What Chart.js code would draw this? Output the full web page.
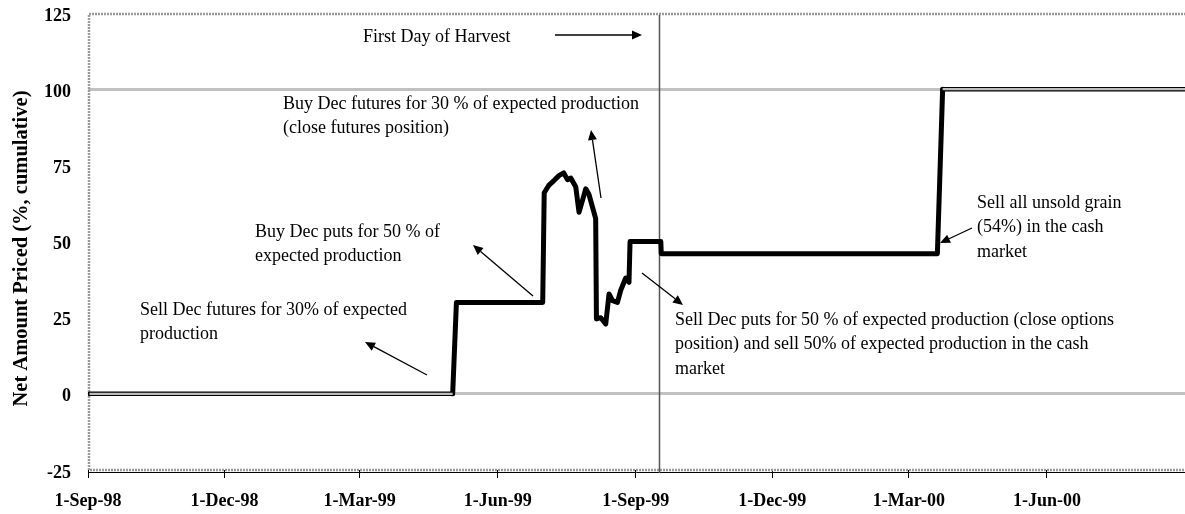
<!DOCTYPE html>
<html>
<head>
<meta charset="utf-8">
<script src="https://cdn.jsdelivr.net/npm/chart.js@4/dist/chart.umd.min.js"></script>
<style>
  html, body { margin: 0; padding: 0; background: #fff; }
  #wrap { width: 1185px; height: 514px; position: relative; }
</style>
</head>
<body>
<div id="wrap"><canvas id="c" width="1185" height="514"></canvas></div>
<script>
// Days since 1-Sep-98
const dayValues = [1, 243, 245.5, 303, 304, 307, 310.5, 314, 317, 319.5, 321.7, 325, 327.2, 329.5, 331.7, 333.8, 338.3, 338.8, 341.7, 345, 347.2, 349.5, 352.8, 355, 358.3, 360.5, 361.2, 381.7, 382, 566, 569.5, 731];
const netPriced = [0, 0, 30, 30, 66, 68.4, 70, 71.7, 72.5, 70.3, 70.8, 68, 59.6, 63.5, 67.3, 65.5, 57.5, 24.6, 25, 22.9, 32.8, 30.6, 30, 34, 38, 36.6, 50, 50, 46, 46, 100, 100];

const tickDays = [0, 91, 181, 273, 365, 456, 547, 639];
const tickLabels = ['1-Sep-98', '1-Dec-98', '1-Mar-99', '1-Jun-99', '1-Sep-99', '1-Dec-99', '1-Mar-00', '1-Jun-00'];
const yTicks = [-25, 0, 25, 50, 75, 100, 125];
const harvestDay = 380.7;
const xMax = 731;
const yTitle = 'Net Amount Priced (%, cumulative)';

const SERIF = "'Liberation Serif', 'Times New Roman', serif";

const annotations = [
  { lines: ['First Day of Harvest'], x: 363, y: 37, arrow: [555, 35, 642, 35] },
  { lines: ['Buy Dec futures for 30 % of expected production', '(close futures position)'], x: 283, y: 104, arrow: [601, 198, 591, 130] },
  { lines: ['Buy Dec puts for 50 % of', 'expected production'], x: 255, y: 232, arrow: [533, 296, 473, 245] },
  { lines: ['Sell Dec futures for 30% of expected', 'production'], x: 140, y: 310, arrow: [427, 375, 365, 342] },
  { lines: ['Sell Dec puts for 50 % of expected production (close options', 'position) and sell 50% of expected production in the cash', 'market'], x: 675, y: 320, arrow: [642, 273, 683, 305] },
  { lines: ['Sell all unsold grain', '(54%) in the cash', 'market'], x: 977, y: 203, arrow: [972, 228, 940, 243] }
];

function isFlatRef(c) {
  return c.p0.parsed.y === c.p1.parsed.y && (c.p0.parsed.y === 0 || c.p0.parsed.y === 100);
}

function drawArrow(ctx, x1, y1, x2, y2) {
  const ang = Math.atan2(y2 - y1, x2 - x1);
  const hl = 10, hw = 4.5;
  const bx = x2 - hl * Math.cos(ang), by = y2 - hl * Math.sin(ang);
  ctx.beginPath();
  ctx.moveTo(x1, y1);
  ctx.lineTo(bx, by);
  ctx.lineWidth = 1.3;
  ctx.strokeStyle = '#000';
  ctx.stroke();
  ctx.beginPath();
  ctx.moveTo(x2, y2);
  ctx.lineTo(bx + hw * Math.sin(ang), by - hw * Math.cos(ang));
  ctx.lineTo(bx - hw * Math.sin(ang), by + hw * Math.cos(ang));
  ctx.closePath();
  ctx.fillStyle = '#000';
  ctx.fill();
}

const framePlugin = {
  id: 'frame',
  beforeDatasetsDraw(chart) {
    const { ctx, chartArea: a, scales } = chart;
    ctx.save();
    // dotted frame
    ctx.strokeStyle = '#9a9a9a';
    ctx.lineWidth = 2.5;
    ctx.setLineDash([2, 1]);
    ctx.strokeRect(a.left + 1, a.top + 1, a.right - a.left + 4, a.bottom - a.top - 1);
    ctx.setLineDash([]);
    // x axis line
    ctx.strokeStyle = '#000';
    ctx.lineWidth = 1;
    ctx.beginPath();
    ctx.moveTo(a.left, a.bottom + 2.5);
    ctx.lineTo(a.right, a.bottom + 2.5);
    ctx.stroke();
    // harvest line
    const hx = Math.round(scales.x.getPixelForValue(harvestDay)) + 0.5;
    ctx.strokeStyle = '#555';
    ctx.lineWidth = 1.5;
    ctx.beginPath();
    ctx.moveTo(hx, a.top + 2);
    ctx.lineTo(hx, a.bottom + 3);
    ctx.stroke();
    // y axis title
    ctx.translate(22, 248.5);
    ctx.rotate(-Math.PI / 2);
    ctx.font = 'bold 20.5px ' + SERIF;
    ctx.fillStyle = '#000';
    ctx.textAlign = 'center';
    ctx.textBaseline = 'middle';
    ctx.fillText(yTitle, 0, 0);
    ctx.restore();
  },
  afterDatasetsDraw(chart) {
    const { ctx } = chart;
    ctx.save();
    ctx.font = '18px ' + SERIF;
    ctx.fillStyle = '#000';
    ctx.textBaseline = 'middle';
    ctx.textAlign = 'left';
    annotations.forEach(an => {
      an.lines.forEach((t, i) => ctx.fillText(t, an.x, an.y + i * 24.5));
      drawArrow(ctx, ...an.arrow);
    });
    ctx.restore();
  }
};

const points = dayValues.map((d, i) => ({ x: d, y: netPriced[i] }));

new Chart(document.getElementById('c'), {
  type: 'scatter',
  data: {
    datasets: [{
      data: points,
      order: 1,
      showLine: true,
      borderColor: '#000',
      borderWidth: 5,
      borderJoinStyle: 'round',
      borderCapStyle: 'round',
      pointRadius: 0,
      tension: 0,
      segment: { borderWidth: c => isFlatRef(c) ? 4.5 : 5 }
    }, {
      data: points,
      order: 0,
      showLine: true,
      borderColor: 'rgba(0,0,0,0)',
      borderWidth: 2.2,
      borderCapStyle: 'butt',
      pointRadius: 0,
      tension: 0,
      segment: { borderColor: c => isFlatRef(c) ? '#bdbdbd' : 'rgba(0,0,0,0)' }
    }]
  },
  plugins: [framePlugin],
  options: {
    responsive: false,
    animation: false,
    layout: { padding: { top: 13, right: 0, left: 0, bottom: 0 } },
    plugins: { legend: { display: false }, tooltip: { enabled: false } },
    scales: {
      x: {
        type: 'linear',
        min: 0,
        max: xMax,
        afterBuildTicks: s => { s.ticks = tickDays.map(v => ({ value: v })); },
        afterFit: s => { s.height = 44; },
        border: { display: false },
        grid: { drawOnChartArea: false, drawTicks: true, tickLength: 8, color: '#000', lineWidth: 1 },
        ticks: {
          autoSkip: false,
          maxRotation: 0,
          padding: 13,
          color: '#000',
          font: { family: SERIF, size: 18, weight: 'bold' },
          callback: v => { const i = tickDays.indexOf(v); return i >= 0 ? tickLabels[i] : ''; }
        }
      },
      y: {
        min: -25,
        max: 125,
        afterBuildTicks: s => { s.ticks = yTicks.map(v => ({ value: v })); },
        afterFit: s => { s.width = 88; },
        border: { display: false },
        grid: {
          drawTicks: true,
          tickLength: 17,
          tickColor: 'rgba(0,0,0,0)',
          lineWidth: 3,
          color: c => (c.tick && (c.tick.value === 0 || c.tick.value === 100)) ? '#c0c0c0' : 'rgba(0,0,0,0)'
        },
        ticks: {
          padding: 0,
          labelOffset: 3,
          color: '#000',
          font: { family: SERIF, size: 18, weight: 'bold' }
        },
        title: { display: false }
      }
    }
  }
});
</script>
</body>
</html>
